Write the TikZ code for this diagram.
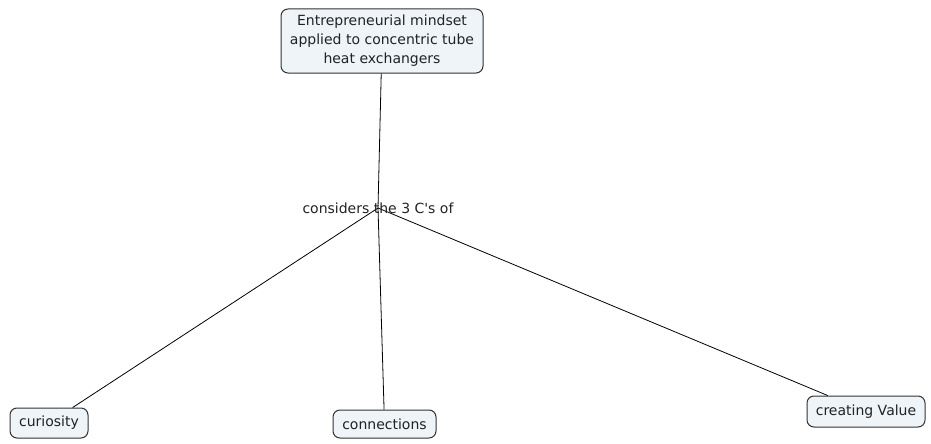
\documentclass[tikz,border=0pt]{standalone}
\usepackage{fontspec}
\setmainfont{DejaVu Sans}
\definecolor{boxfill}{HTML}{EEF4F7}
\definecolor{boxline}{HTML}{333333}
\definecolor{txt}{HTML}{222222}
\begin{document}
\begin{tikzpicture}[x=1pt,y=-1pt,
  concept/.style={draw=boxline, fill=boxfill, rounded corners=7pt, line width=1pt,
    font=\fontsize{14}{19}\selectfont, text=txt, align=center, inner sep=0pt},
  link/.style={font=\fontsize{14}{19}\selectfont, text=txt, inner sep=0pt},
  conn/.style={draw=black, line width=0.8pt}]
\useasboundingbox (0,0) rectangle (931,444);
\node[concept, minimum width=202pt, minimum height=64pt] (top) at (382,41)
  {Entrepreneurial mindset\\applied to concentric tube\\heat exchangers};
\node[concept, minimum width=78pt, minimum height=30pt] (cur) at (49,423) {curiosity};
\node[concept, minimum width=103pt, minimum height=28pt] (con) at (384.5,424) {connections};
\node[concept, minimum width=118pt, minimum height=31pt] (cv) at (866,411.5) {creating Value};
\coordinate (j) at (378,208);
\draw[conn] (top) -- (j);
\draw[conn] (j) -- (cur);
\draw[conn] (j) -- (con);
\draw[conn] (j) -- (cv);
\node[link] (lp) at (378,208) {considers the 3 C\textquotesingle s of};
\end{tikzpicture}
\end{document}
